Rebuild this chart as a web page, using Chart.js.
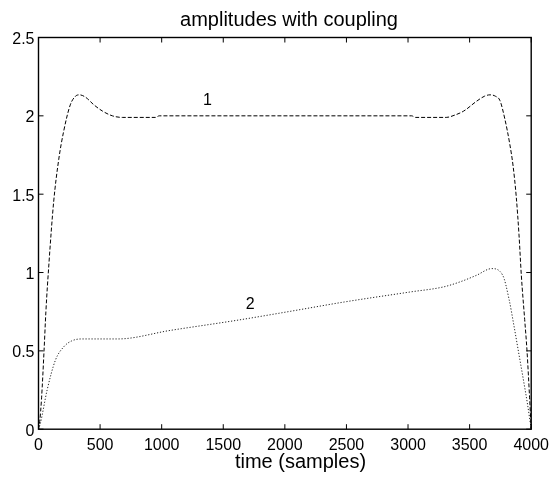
<!DOCTYPE html>
<html>
<head>
<meta charset="utf-8">
<script src="https://cdn.jsdelivr.net/npm/chart.js@4/dist/chart.umd.min.js"></script>
<style>
  body { margin: 0; background: #fff; }
  canvas { display: block; }
</style>
</head>
<body>
<canvas id="amps" width="556" height="479"></canvas>
<script>
// values
var timeOne = [0, 10, 25, 45, 60, 85, 123, 164, 204, 258, 300, 332, 380, 450, 520, 600, 680, 950, 980,
  3030, 3060, 3310, 3380, 3451, 3558, 3620, 3665, 3710, 3746, 3786, 3826, 3853, 3879, 3901, 3920, 3947, 3966, 3987, 4000];
var ampOne = [0, 0.05, 0.2, 0.5, 0.75, 1.06, 1.45, 1.72, 1.9, 2.07, 2.125, 2.134, 2.12, 2.07, 2.03, 2.0, 1.99, 1.99, 2.0,
  2.0, 1.99, 1.99, 2.005, 2.03, 2.094, 2.125, 2.134, 2.125, 2.098, 1.98, 1.82, 1.68, 1.48, 1.24, 0.98, 0.7, 0.5, 0.2, 0];

var timeTwo = [0, 16, 70, 137, 204, 268, 349, 644, 1073, 1610, 2012, 2483, 3019, 3287, 3421, 3555, 3680, 3769,
  3820, 3860, 3900, 3940, 3970, 4000];
var ampTwo = [0, 0.04, 0.25, 0.44, 0.525, 0.563, 0.576, 0.576, 0.631, 0.695, 0.748, 0.812, 0.876, 0.908, 0.94, 0.982, 1.025, 0.982,
  0.83, 0.66, 0.48, 0.30, 0.16, 0];

var xTicks = [0, 500, 1000, 1500, 2000, 2500, 3000, 3500, 4000];
var yTicks = [0, 0.5, 1, 1.5, 2, 2.5];

// curve labels "1" and "2" in data units
var curveLabels = [
  {text: '1', x: 1371, y: 2.066},
  {text: '2', x: 1719, y: 0.77}
];

var FONT = '"Liberation Sans", Arial, Helvetica, sans-serif';

function toPoints(xs, ys) {
  return xs.map(function(x, i) {return {x: x, y: ys[i]}});
}

// box, inward ticks, title, xlabel and curve numbers
var decor = {
  id: 'decor',
  afterDraw: function(chart) {
    var ctx = chart.ctx;
    var a = chart.chartArea;
    var xs = chart.scales.x, ys = chart.scales.y;
    ctx.save();
    ctx.strokeStyle = '#000';
    ctx.lineWidth = 1.4;
    ctx.strokeRect(a.left, a.top, a.right - a.left, a.bottom - a.top);
    ctx.lineWidth = 1;
    ctx.beginPath();
    xTicks.forEach(function(v) {
      var px = xs.getPixelForValue(v);
      ctx.moveTo(px, a.bottom); ctx.lineTo(px, a.bottom - 5);
      ctx.moveTo(px, a.top); ctx.lineTo(px, a.top + 5);
    });
    yTicks.forEach(function(v) {
      var py = ys.getPixelForValue(v);
      ctx.moveTo(a.left, py); ctx.lineTo(a.left + 5, py);
      ctx.moveTo(a.right, py); ctx.lineTo(a.right - 5, py);
    });
    ctx.stroke();

    ctx.fillStyle = '#000';
    ctx.textAlign = 'center';
    ctx.textBaseline = 'alphabetic';
    ctx.font = '20px ' + FONT;
    ctx.fillText('amplitudes with coupling', 289, 26);
    ctx.fillText('time (samples)', 300.5, 468);

    ctx.font = '16px ' + FONT;
    curveLabels.forEach(function(l) {
      ctx.fillText(l.text, xs.getPixelForValue(l.x), ys.getPixelForValue(l.y));
    });
    ctx.restore();
  }
};

Chart.defaults.font.family = FONT;
Chart.defaults.color = '#000';

new Chart('amps', {
  type: 'line',
  data: {
    datasets: [
      {
        label: '1',
        data: toPoints(timeOne, ampOne),
        borderColor: '#000',
        borderWidth: 1,
        borderDash: [4, 2],
        pointRadius: 0,
        fill: false,
        cubicInterpolationMode: 'monotone'
      },
      {
        label: '2',
        data: toPoints(timeTwo, ampTwo),
        borderColor: '#222',
        borderWidth: 1,
        borderDash: [1.2, 1.8],
        pointRadius: 0,
        fill: false,
        cubicInterpolationMode: 'monotone'
      }
    ]
  },
  options: {
    responsive: false,
    animation: false,
    devicePixelRatio: 1,
    layout: {padding: {top: 37.5, right: 20.2, left: 0, bottom: 0}},
    plugins: {legend: {display: false}, tooltip: {enabled: false}},
    scales: {
      x: {
        type: 'linear',
        min: 0, max: 4000,
        grid: {display: false, drawTicks: false},
        border: {display: false},
        afterBuildTicks: function(s) {s.ticks = xTicks.map(function(v) {return {value: v}})},
        ticks: {font: {size: 16}, padding: 7, maxRotation: 0, autoSkip: false,
          callback: function(v) {return String(v)}},
        afterFit: function(s) {s.height = 49.8}
      },
      y: {
        type: 'linear',
        min: 0, max: 2.5,
        grid: {display: false, drawTicks: false},
        border: {display: false},
        afterBuildTicks: function(s) {s.ticks = yTicks.map(function(v) {return {value: v}})},
        ticks: {font: {size: 16}, padding: 4, labelOffset: 2, autoSkip: false,
          callback: function(v) {return String(v)}},
        afterFit: function(s) {s.width = 38.5}
      }
    }
  },
  plugins: [decor]
});
</script>
</body>
</html>
